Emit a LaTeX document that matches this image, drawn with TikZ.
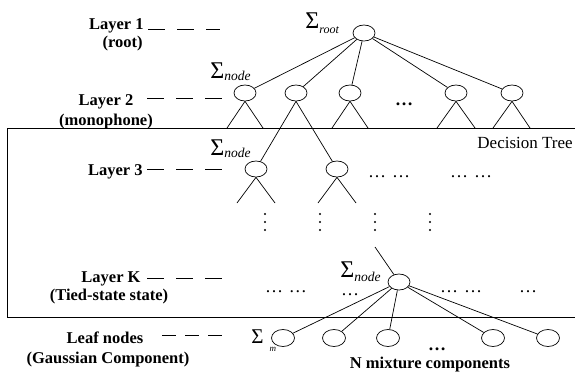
\documentclass[tikz,border=0pt]{standalone}
\usepackage{fontspec}
\setmainfont{Liberation Serif}
\usetikzlibrary{shapes.geometric}
\begin{document}
\begin{tikzpicture}[x=1pt,y=-1pt,line width=0.7pt,
  ell/.style={draw, ellipse, minimum width=22pt, minimum height=16pt, inner sep=0pt},
  lbl/.style={font=\fontsize{16.5}{18}\selectfont\bfseries, inner sep=0pt, anchor=base},
  dsh/.style={dash pattern=on 17pt off 12pt},
  dts/.style={font=\fontsize{18}{18}\selectfont, inner sep=0pt, anchor=base},
  sig/.style={inner sep=0pt, anchor=base west, font=\fontsize{24}{24}\selectfont}]
\useasboundingbox (0,0) rectangle (575,375);
% frame
\draw[line width=1pt] (576,128) -- (7,128) -- (7,317) -- (576,317);
\node[font=\fontsize{17}{17}\selectfont, inner sep=0pt, anchor=base east] (dt) at (573,148) {Decision Tree};
% left labels
\node[lbl, anchor=base east] (t1) at (144,29) {Layer 1};
\node[lbl, anchor=base east] (t1b) at (143,47) {(root)};
\node[lbl] (t2) at (106,105) {Layer 2};
\node[lbl] (t2b) at (106,125) {(monophone)};
\node[lbl, anchor=base east] (t3) at (143,175) {Layer 3};
\node[lbl] (tk) at (111,282) {Layer K};
\node[lbl] (tkb) at (109,300) {(Tied-state state)};
\node[lbl] (tf) at (105,343) {Leaf nodes};
\node[lbl] (tfb) at (108,363) {(Gaussian Component)};
% dashes
\coordinate (d1a) at (148,29); \coordinate (d1b) at (220,29);
\coordinate (d2a) at (147,98); \coordinate (d2b) at (222,98);
\coordinate (d3a) at (147,169); \coordinate (d3b) at (222,169);
\coordinate (dka) at (147,278); \coordinate (dkb) at (222,278);
\coordinate (dfa) at (162,335); \coordinate (dfb) at (222,335);
\draw[dsh] (d1a) -- (d1b);
\draw[dsh] (d2a) -- (d2b);
\draw[dsh] (d3a) -- (d3b);
\draw[dsh] (dka) -- (dkb);
\draw[dash pattern=on 14pt off 9pt] (dfa) -- (dfb);
% nodes
\node[ell] (r) at (364,33) {};
\node[ell] (a0) at (245,93) {};
\node[ell] (a1) at (296,93) {};
\node[ell] (a2) at (350,93) {};
\node[ell] (a3) at (456,93) {};
\node[ell] (a4) at (512,93) {};
\node[ell] (b0) at (256,169) {};
\node[ell] (b1) at (337,169) {};
\node[ell] (k) at (399,282) {};
\node[ell, minimum width=23pt, minimum height=17pt] (f0) at (283,338) {};
\node[ell, minimum width=23pt, minimum height=17pt] (f1) at (334,338) {};
\node[ell, minimum width=23pt, minimum height=17pt] (f2) at (388,338) {};
\node[ell, minimum width=23pt, minimum height=17pt] (f3) at (493,338) {};
\node[ell, minimum width=23pt, minimum height=17pt] (f4) at (548,338) {};
% sigma labels
\node[sig] (sr) at (305,28) {Σ\raisebox{-5pt}{\fontsize{12}{12}\selectfont\itshape root}};
\node[sig] (s2) at (210,78) {Σ\raisebox{-2pt}{\fontsize{13.5}{13.5}\selectfont\itshape node}};
\node[sig] (s3) at (210,155) {Σ\raisebox{-2pt}{\fontsize{13.5}{13.5}\selectfont\itshape node}};
\node[sig] (sk) at (340,277) {Σ\raisebox{-4pt}{\fontsize{13.5}{13.5}\selectfont\itshape node}};
\node[sig, font=\fontsize{21}{21}\selectfont] (sm) at (251,343) {Σ\hspace{6pt}\raisebox{-8pt}{\fontsize{9}{9}\selectfont\itshape m}};
% root edges
\foreach \n in {a0,a1,a2,a3,a4} \draw (r) -- (\n);
% layer 2 legs
\coordinate (a0l) at (227,128); \coordinate (a0r) at (263,128);
\coordinate (a2l) at (332,128); \coordinate (a2r) at (368,128);
\coordinate (a3l) at (437,128); \coordinate (a3r) at (475,128);
\coordinate (a4l) at (493,128); \coordinate (a4r) at (530,128);
\foreach \n in {a0,a2,a3,a4} {\draw (\n.south) -- (\n l); \draw (\n.south) -- (\n r);}
\draw (a1.south) -- (b0);
\draw (a1.south) -- (b1);
% layer 3 legs
\coordinate (b0l) at (237,203); \coordinate (b0r) at (275,203);
\coordinate (b1l) at (318,203); \coordinate (b1r) at (356,203);
\foreach \n in {b0,b1} {\draw (\n.south) -- (\n l); \draw (\n.south) -- (\n r);}
% vertical dots
\foreach \x in {265,320,375,430} \foreach \y in {214,222,230} \fill (\x,\y) circle (1.1pt);
% layer K
\coordinate (ks) at (375,247);
\draw (ks) -- (k);
\foreach \n in {f0,f1,f2,f3,f4} \draw (k) -- (\n);
% horizontal dots
\node[dts, font=\fontsize{18}{18}\selectfont\bfseries] (h2) at (404,105) {…};
\node[dts] (h3a) at (389,177) {…\hspace{6pt}…};
\node[dts] (h3b) at (471,177) {…\hspace{6pt}…};
\node[dts] (hka) at (286,292) {…\hspace{6pt}…};
\node[dts] (hkb) at (350,295) {…};
\node[dts] (hkc) at (461,292) {…\hspace{6pt}…};
\node[dts] (hkd) at (528,292) {…};
\node[dts, font=\fontsize{18}{18}\selectfont\bfseries] (hf) at (437,350) {…};
\node[lbl] (nm) at (430,368) {N mixture components};
\end{tikzpicture}
\end{document}
